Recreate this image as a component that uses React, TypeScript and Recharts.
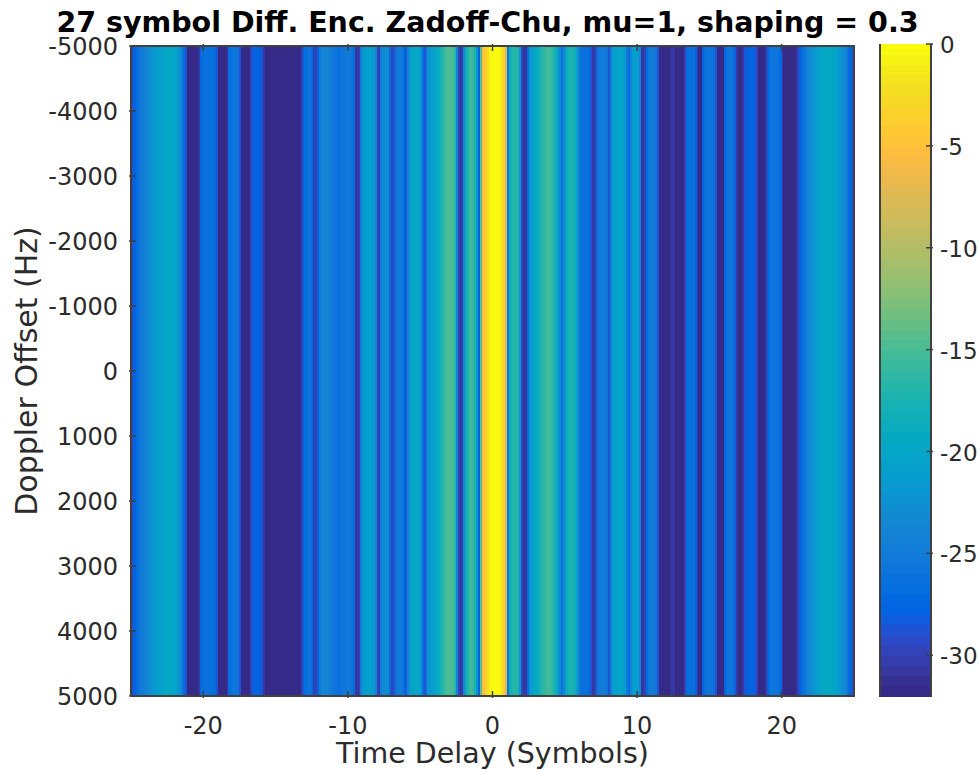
import React from 'react';
import { ComposedChart, Bar, Cell, XAxis, YAxis, Label } from 'recharts';

const TITLE = '27 symbol Diff. Enc. Zadoff-Chu, mu=1, shaping = 0.3';
const X_LABEL = 'Time Delay (Symbols)';
const Y_LABEL = 'Doppler Offset (Hz)';
const X_TICKS = [-20, -10, 0, 10, 20];
const Y_TICKS = [-5000, -4000, -3000, -2000, -1000, 0, 1000, 2000, 3000, 4000, 5000];
const C_TICKS = [0, -5, -10, -15, -20, -25, -30];
const DOPPLER_SPAN = [-5000, 5000];

// Correlation power in dB, eight samples per symbol of delay, one row per symbol from -25 to +25
const powerDb = [
  -29,-28.5,-28,-27,-26,-25.5,-25,-24.5,
  -24,-23.5,-23,-22.5,-22,-21.5,-21.5,-21,
  -21,-20.5,-20.5,-20,-20,-20,-20,-20,
  -20.5,-21,-22,-23,-25,-27,-29,-32,
  -32,-32,-32,-32,-32,-31,-28,-27,
  -26.5,-26.5,-26.5,-26.5,-26.5,-26.5,-27,-29,
  -32,-32,-32,-32,-32,-31,-27,-26.5,
  -26,-26,-26,-26.5,-29,-32,-32,-32,
  -32,-32,-30,-28.5,-28,-28,-28,-28,
  -29,-31,-32,-32,-32,-32,-32,-32,
  -32,-32,-32,-32,-32,-32,-32,-32,
  -32,-32,-32,-32,-32,-32,-30,-27.5,
  -27,-26.5,-26,-26.5,-28,-30,-30,-28,
  -25.5,-24.5,-24,-24,-24,-24.5,-25,-25.5,
  -26,-26,-26.5,-26.5,-26,-26,-25.5,-25.5,
  -25.5,-25.5,-26,-27,-31,-31,-30,-25,
  -22,-21.5,-21,-21,-21,-21.5,-22,-24,
  -30,-30,-25,-23.5,-23,-23,-23.5,-27,
  -30,-29,-26,-25,-25,-25,-26,-28,
  -29,-24,-21.5,-20.5,-20,-20,-20,-20.5,
  -22,-27,-29,-26,-23,-22,-21.5,-21,
  -20.5,-20,-19,-18,-17,-16,-15.5,-15,
  -15,-15,-15.5,-17,-24,-30,-31,-30,
  -24,-19,-17,-16,-15.5,-16,-18,-22,
  -28,-14,-7,-5,-4,-2.5,-1,-0.3,
  0,0,0,-0.3,-0.8,-2,-4,-8,
  -26,-19,-18,-17,-17,-17,-18,-22,
  -30,-31,-31,-27,-23,-21.5,-21,-20,
  -19.5,-19,-18,-17,-16.5,-16,-15.5,-15.5,
  -16,-17,-18,-19,-21,-24,-26,-24,
  -21,-19,-18,-17.5,-18,-18.5,-20,-23,
  -26,-26.5,-26.5,-26.5,-26.5,-27,-29,-31,
  -31,-29,-26,-25.5,-25,-25,-25.5,-26,
  -29,-25,-22,-21,-21,-20.5,-20.5,-20.5,
  -21,-22,-25,-27,-24,-22,-21,-21,
  -21.5,-24,-31,-31,-30,-27,-25.5,-25,
  -25,-25,-26,-29,-32,-32,-32,-32,
  -32,-32,-31.5,-31,-31,-32,-32,-32,
  -32,-32,-30,-27,-26.5,-26.5,-26.5,-26.5,
  -28,-31,-32,-32,-28,-26.5,-26,-26,
  -26,-26,-26.5,-29,-32,-32,-32,-32,
  -28,-26.5,-26,-26,-26,-27,-29,-31,
  -32,-32,-31,-29,-28.5,-28,-28,-28,
  -28,-28.5,-30,-32,-32,-32,-32,-31,
  -28,-26.5,-26,-26,-26,-26,-26.5,-27.5,
  -31,-32,-32,-32,-32,-32,-32,-32,
  -31,-29,-28,-27,-26,-25,-24,-23.5,
  -23,-22.5,-22,-21.5,-21,-20.5,-20,-20,
  -19.5,-19.5,-19.5,-20,-20,-20.5,-21,-21.5,
  -22,-23,-23.5,-24,-26,-27,-28,-29,
];

// MATLAB parula colormap, 64 rows
const parula = [
  [0.2081,0.1663,0.5292],[0.2116,0.1898,0.5777],[0.2123,0.2138,0.627],[0.2081,0.2386,0.6771],
  [0.1959,0.2645,0.7279],[0.1707,0.2919,0.7792],[0.1253,0.3242,0.8303],[0.0591,0.3598,0.8683],
  [0.0117,0.3875,0.882],[0.006,0.4086,0.8828],[0.0165,0.4266,0.8786],[0.0329,0.443,0.872],
  [0.0498,0.4586,0.8641],[0.0629,0.4737,0.8554],[0.0723,0.4887,0.8467],[0.0779,0.504,0.8384],
  [0.0793,0.52,0.8312],[0.0749,0.5375,0.8263],[0.0641,0.557,0.824],[0.0488,0.5772,0.8228],
  [0.0343,0.5966,0.8199],[0.0265,0.6137,0.8135],[0.0239,0.6287,0.8038],[0.0231,0.6418,0.7913],
  [0.0228,0.6535,0.7768],[0.0267,0.6642,0.7607],[0.0384,0.6743,0.7436],[0.059,0.6838,0.7254],
  [0.0843,0.6928,0.7062],[0.1133,0.7015,0.6859],[0.1453,0.7098,0.6646],[0.1801,0.7177,0.6424],
  [0.2178,0.725,0.6193],[0.2586,0.7317,0.5954],[0.3022,0.7376,0.5712],[0.3482,0.7424,0.5473],
  [0.3953,0.7459,0.5244],[0.442,0.7481,0.5033],[0.4871,0.7491,0.484],[0.53,0.7491,0.4661],
  [0.5709,0.7485,0.4494],[0.6099,0.7473,0.4337],[0.6473,0.7456,0.4188],[0.6834,0.7435,0.4044],
  [0.7184,0.7411,0.3905],[0.7525,0.7384,0.3768],[0.7858,0.7356,0.3633],[0.8185,0.7327,0.3498],
  [0.8507,0.7299,0.336],[0.8824,0.7274,0.3217],[0.9139,0.7258,0.3063],[0.945,0.7261,0.2886],
  [0.9739,0.7314,0.2666],[0.9938,0.7455,0.2403],[0.999,0.7653,0.2164],[0.9955,0.7861,0.1967],
  [0.988,0.8066,0.1794],[0.9789,0.8271,0.1633],[0.9697,0.8481,0.1475],[0.9626,0.8705,0.1309],
  [0.9589,0.8949,0.1132],[0.9598,0.9218,0.0948],[0.9661,0.9514,0.0755],[0.9763,0.9831,0.0538],
];

const FONT = '"DejaVu Sans", sans-serif';
const INK = '#404040';
const TEXT = '#2b2b2b';
const FS = 24;
const TICK = 7;

const rgb = (row: number[]) => `rgb(${row.map((c) => Math.round(c * 255)).join(',')})`;
const colorOf = (db: number) => {
  const i = Math.max(0, Math.min(63, Math.floor(((db + 32) / 32) * 64)));
  return rgb(parula[i]);
};

const stripes = powerDb.map((db, i) => ({ delay: -25 + (i + 0.5) / 8 + 0.04, db, span: DOPPLER_SPAN }));
const barLevels = parula.map((_, i) => ({ level: -32 + (i + 0.5) * 0.5, span: [0, 1] }));

const BottomTick = (p: any) => (
  <g>
    <line x1={p.x} x2={p.x} y1={p.y - 10} y2={p.y - 10 - TICK} stroke={INK} strokeWidth={1.5} />
    <text x={p.x} y={p.y + 26} textAnchor="middle" fontSize={FS} fontFamily={FONT} fill={TEXT}>{p.payload.value}</text>
  </g>
);
const TopTick = (p: any) => <line x1={p.x} x2={p.x} y1={p.y + 10} y2={p.y + 10 + TICK} stroke={INK} strokeWidth={1.5} />;
const LeftTick = (p: any) => (
  <g>
    <line x1={p.x + 10} x2={p.x + 10 + TICK} y1={p.y} y2={p.y} stroke={INK} strokeWidth={1.5} />
    <text x={p.x - 1} y={p.y + 9} textAnchor="end" fontSize={FS} fontFamily={FONT} fill={TEXT}>{p.payload.value}</text>
  </g>
);
const RightTick = (p: any) => <line x1={p.x - 10} x2={p.x - 10 - TICK} y1={p.y} y2={p.y} stroke={INK} strokeWidth={1.5} />;
const BarTick = (p: any) => (
  <g>
    <line x1={p.x - 10} x2={p.x - 10 - TICK} y1={p.y} y2={p.y} stroke={INK} strokeWidth={1.5} />
    <text x={p.x - 3} y={p.y + 9} textAnchor="start" fontSize={FS - 1} fontFamily={FONT} fill={TEXT}>{p.payload.value}</text>
  </g>
);

const axisLine = { stroke: INK, strokeWidth: 2 };

export default function App() {
  return (
    <div style={{ position: 'absolute', left: 0, top: 0, width: 979, height: 770, background: '#fff' }}>
      <div style={{ position: 'absolute', left: 0, top: 0 }}>
        <ComposedChart width={979} height={770} data={stripes} margin={{ top: 0, right: 0, bottom: 0, left: 0 }} barGap={0}>
          <XAxis xAxisId="b" type="number" dataKey="delay" domain={[-25, 25]} ticks={X_TICKS} height={74} interval={0}
            axisLine={axisLine} tickLine={false} tick={<BottomTick />} tickSize={10}>
            <Label value={X_LABEL} position="insideBottom" offset={7} fontSize={28.5} fontFamily={FONT} fill={TEXT} />
          </XAxis>
          <XAxis xAxisId="t" orientation="top" type="number" dataKey="delay" domain={[-25, 25]} ticks={X_TICKS} height={46} interval={0}
            axisLine={axisLine} tickLine={false} tick={<TopTick />} tickSize={10}>
            <Label value={TITLE} position="insideTop" offset={12} dx={-5} fontSize={28.5} fontWeight="bold" fontFamily={FONT} fill="#000" />
          </XAxis>
          <YAxis yAxisId="l" type="number" reversed domain={[-5000, 5000]} ticks={Y_TICKS} width={131} interval={0}
            axisLine={axisLine} tickLine={false} tick={<LeftTick />} tickSize={10}>
            <Label value={Y_LABEL} position="insideLeft" angle={-90} offset={0} dx={26} fontSize={30} fontFamily={FONT} fill={TEXT} style={{ textAnchor: 'middle' }} />
          </YAxis>
          <YAxis yAxisId="r" orientation="right" type="number" reversed domain={[-5000, 5000]} ticks={Y_TICKS} width={125} interval={0}
            axisLine={axisLine} tickLine={false} tick={<RightTick />} tickSize={10} />
          <Bar xAxisId="b" yAxisId="l" dataKey="span" barSize={2} isAnimationActive={false}>
            {stripes.map((s) => <Cell key={s.delay} fill={colorOf(s.db)} stroke={colorOf(s.db)} strokeWidth={1.4} shapeRendering="crispEdges" />)}
          </Bar>
        </ComposedChart>
      </div>
      <div style={{ position: 'absolute', left: 860, top: 0 }}>
        <ComposedChart width={119} height={770} layout="vertical" data={barLevels} margin={{ top: 44, right: 0, bottom: 74, left: 0 }} barGap={0}>
          <XAxis type="number" domain={[0, 1]} hide />
          <YAxis yAxisId="c" orientation="right" type="number" dataKey="level" reversed domain={[-32, 0]} ticks={C_TICKS} width={48} interval={0}
            axisLine={axisLine} tickLine={false} tick={<BarTick />} tickSize={10} />
          <YAxis yAxisId="cl" orientation="left" type="number" dataKey="level" reversed domain={[-32, 0]} width={20} tick={false} axisLine={axisLine} tickLine={false} />
          <Bar yAxisId="c" dataKey="span" barSize={11} isAnimationActive={false}>
            {barLevels.map((l, i) => <Cell key={l.level} fill={rgb(parula[i])} stroke={rgb(parula[i])} strokeWidth={1.4} shapeRendering="crispEdges" />)}
          </Bar>
        </ComposedChart>
      </div>
    </div>
  );
}
